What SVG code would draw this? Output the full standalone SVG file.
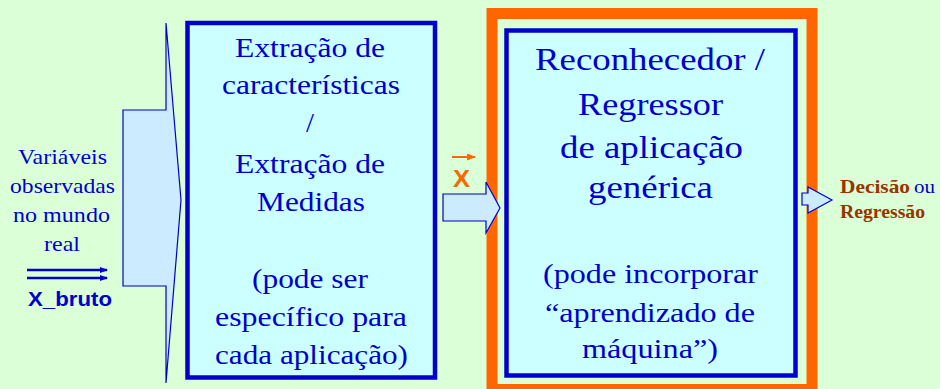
<svg xmlns="http://www.w3.org/2000/svg" width="940" height="389" viewBox="0 0 940 389">
<defs>
<style>
.bg{fill:#DBFFD6}
.box{fill:#CCFFFF;stroke:#0000CC;stroke-width:4.5}
.arrow{fill:#CCEBFF;stroke:#0000CC;stroke-width:1.2;stroke-linejoin:miter}
.t{font-family:"Liberation Serif","Times New Roman",serif;fill:#0000CC;text-anchor:start}
.big{font-size:32px}
.mid{font-size:28px}
.sm{font-size:22px}
.brown{font-family:"Liberation Serif","Times New Roman",serif;font-weight:bold;font-size:19px;fill:#993300}
.sans{font-family:"Liberation Sans",Arial,sans-serif;font-weight:bold}
</style>
<marker id="ah" markerWidth="8" markerHeight="6" refX="7" refY="3" orient="auto" markerUnits="userSpaceOnUse">
<path d="M0,0 L8,3 L0,6 Z" fill="#0000CC"/>
</marker>
<marker id="ahO" markerWidth="9" markerHeight="7" refX="8" refY="3.5" orient="auto" markerUnits="userSpaceOnUse">
<path d="M0,0 L9,3.5 L0,7 Z" fill="#FF6600"/>
</marker>
</defs>
<rect class="bg" x="0" y="0" width="940" height="389"/>

<g id="input">
<text class="t sm" x="18" y="164" textLength="89" lengthAdjust="spacingAndGlyphs">Variáveis</text>
<text class="t sm" x="10" y="193" textLength="105" lengthAdjust="spacingAndGlyphs">observadas</text>
<text class="t sm" x="13" y="222" textLength="97" lengthAdjust="spacingAndGlyphs">no mundo</text>
<text class="t sm" x="44" y="251" textLength="36" lengthAdjust="spacingAndGlyphs">real</text>
<line x1="27" y1="270" x2="107" y2="270" stroke="#0000CC" stroke-width="2.5" marker-end="url(#ah)"/>
<line x1="27" y1="278" x2="107" y2="278" stroke="#0000CC" stroke-width="2.5" marker-end="url(#ah)"/>
<text class="sans" x="28" y="306" font-size="20" fill="#0000CC" textLength="84" lengthAdjust="spacingAndGlyphs">X_bruto</text>
</g>

<g id="extracao">
<rect class="box" x="187.5" y="23" width="247.5" height="354.5"/>
<text class="t mid" x="235" y="57" textLength="150" lengthAdjust="spacingAndGlyphs">Extração de</text>
<text class="t mid" x="222" y="94" textLength="178" lengthAdjust="spacingAndGlyphs">características</text>
<text class="t mid" x="306" y="132" textLength="8" lengthAdjust="spacingAndGlyphs">/</text>
<text class="t mid" x="235" y="173" textLength="150" lengthAdjust="spacingAndGlyphs">Extração de</text>
<text class="t mid" x="257" y="211" textLength="108" lengthAdjust="spacingAndGlyphs">Medidas</text>
<text class="t mid" x="252" y="288" textLength="116" lengthAdjust="spacingAndGlyphs">(pode ser</text>
<text class="t mid" x="215" y="326" textLength="192" lengthAdjust="spacingAndGlyphs">específico para</text>
<text class="t mid" x="215" y="364" textLength="193" lengthAdjust="spacingAndGlyphs">cada aplicação)</text>
</g>

<g id="reconhecedor">
<rect x="492" y="13.5" width="320" height="376" fill="none" stroke="#FF6600" stroke-width="11"/>
<rect class="box" x="506.5" y="30.5" width="289" height="345"/>
<text class="t big" x="535" y="70" textLength="230" lengthAdjust="spacingAndGlyphs">Reconhecedor /</text>
<text class="t big" x="578" y="115" textLength="145" lengthAdjust="spacingAndGlyphs">Regressor</text>
<text class="t big" x="560" y="158" textLength="183" lengthAdjust="spacingAndGlyphs">de aplicação</text>
<text class="t big" x="588" y="198" textLength="125" lengthAdjust="spacingAndGlyphs">genérica</text>
<text class="t mid" x="543" y="283" textLength="215" lengthAdjust="spacingAndGlyphs">(pode incorporar</text>
<text class="t mid" x="545" y="322" textLength="210" lengthAdjust="spacingAndGlyphs">“aprendizado de</text>
<text class="t mid" x="582" y="358" textLength="136" lengthAdjust="spacingAndGlyphs">máquina”)</text>
</g>

<g id="saida">
<text x="840" y="193"><tspan class="brown" textLength="70" lengthAdjust="spacingAndGlyphs">Decisão</tspan><tspan x="914" class="t" font-size="19" textLength="21" lengthAdjust="spacingAndGlyphs">ou</tspan></text>
<text class="brown" x="840" y="218" textLength="85" lengthAdjust="spacingAndGlyphs">Regressão</text>
</g>

<g id="connectors">
<path class="arrow" d="M123,110 L166,110 L166,23 L181,200 L166,383 L166,286 L123,286 Z"/>
<path class="arrow" d="M443,194 L486,194 L486,182 L500,208 L486,233 L486,221 L443,221 Z"/>
<path class="arrow" d="M802,193 L808,193 L808,187 L832,200 L808,213 L808,205 L802,205 Z"/>
<line x1="452" y1="157" x2="475" y2="157" stroke="#FF6600" stroke-width="2" marker-end="url(#ahO)"/>
<text class="sans" x="453" y="187" font-size="23" fill="#FF6600" textLength="17" lengthAdjust="spacingAndGlyphs">X</text>
</g>
</svg>
